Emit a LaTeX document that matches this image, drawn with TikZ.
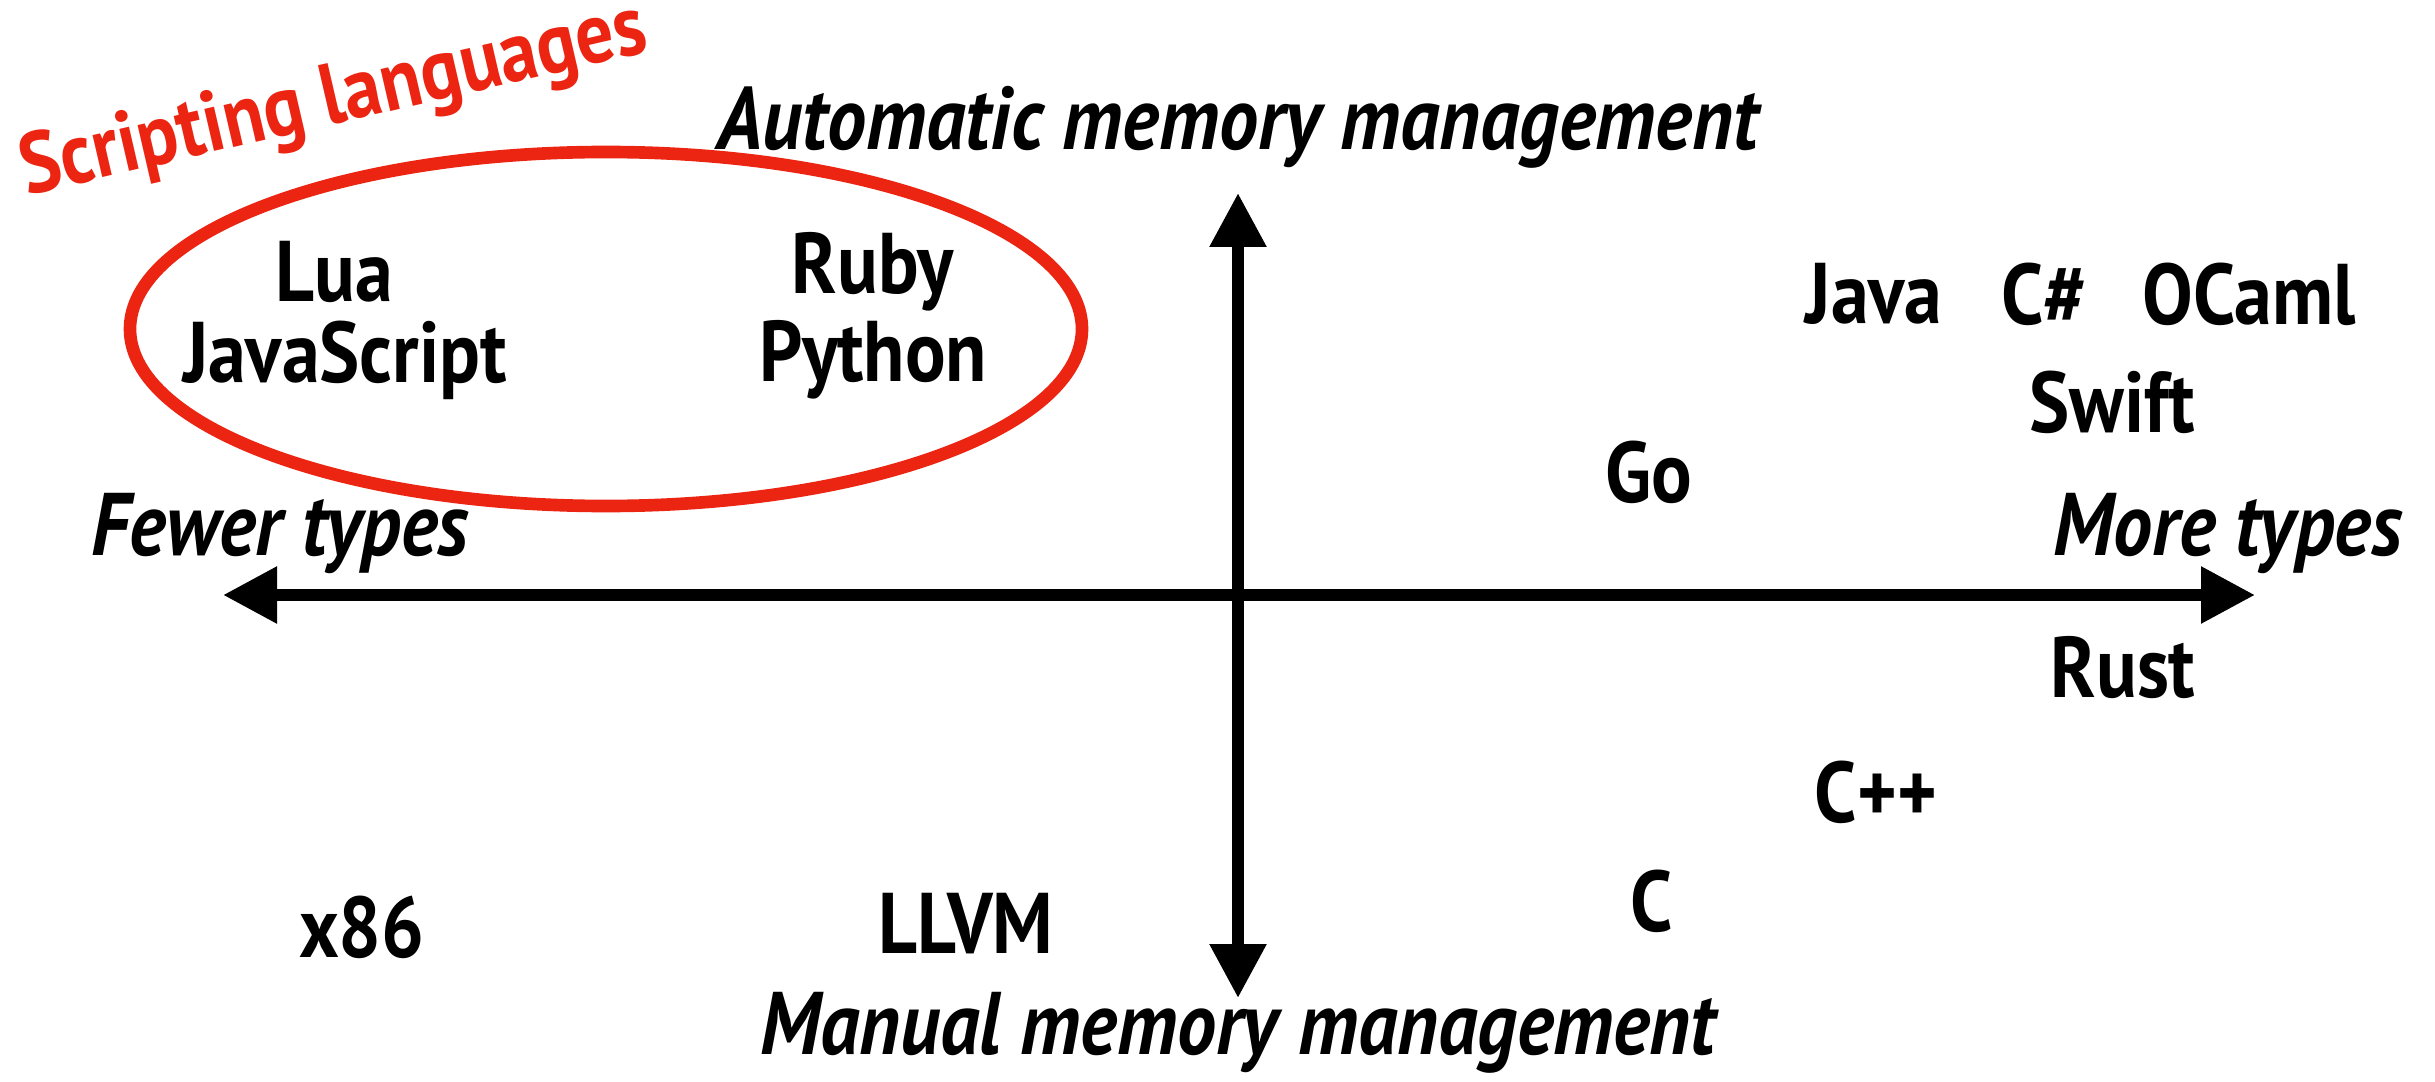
\documentclass[tikz,border=0pt]{standalone}
\usepackage{fontspec}
\setmainfont{PT Sans}[FakeStretch=0.88]
\usetikzlibrary{arrows.meta}

\begin{document}
\begin{tikzpicture}[x=0.1mm,y=-0.1mm,
	lang/.style={font=\bfseries\fontsize{24.5}{28}\selectfont},
	axislabel/.style={font=\bfseries\itshape\fontsize{25.3}{29}\selectfont},
	axis/.style={line width=3.4pt,{Triangle[length=5.4mm,width=5.4mm]}-{Triangle[length=5.4mm,width=5.4mm]}}]
	\definecolor{scriptred}{RGB}{236,36,18}

	\useasboundingbox (0,0) rectangle (2435,1082);

	% axes
	\coordinate (fewer) at (223,595);
	\coordinate (more) at (2255,595);
	\coordinate (automatic) at (1238,193);
	\coordinate (manual) at (1238,998);
	\draw[axis] (fewer) -- (more);
	\draw[axis] (automatic) -- (manual);

	\node[axislabel] (autolbl) at (1238,127) {Automatic memory management};
	\node[axislabel] (manuallbl) at (1238,1033) {Manual memory management};
	\node[axislabel] (fewerlbl) at (280,533) {Fewer types};
	\node[axislabel] (morelbl) at (2228,533) {More types};

	% scripting languages
	\draw[scriptred,line width=3.6pt] (606,329) ellipse [x radius=476, y radius=177];
	\node[text=scriptred,font=\bfseries\fontsize{24.5}{28}\selectfont,rotate=13,inner sep=0pt] (scripting) at (334,102) {Scripting languages};

	\node[lang] (lua) at (334,272) {Lua};
	\node[lang] (js) at (345,360) {JavaScript};
	\node[lang] (ruby) at (873,272) {Ruby};
	\node[lang] (python) at (873,360) {Python};

	% typed languages
	\node[lang] (java) at (1874,294) {Java};
	\node[lang] (csharp) at (2044,294) {C\#};
	\node[lang] (ocaml) at (2249,294) {OCaml};
	\node[lang] (swift) at (2112,402) {Swift};
	\node[lang] (go) at (1649,472) {Go};
	\node[lang] (rust) at (2123,668) {Rust};
	\node[lang] (cpp) at (1876,792) {C++};
	\node[lang] (c) at (1652,901) {C};
	\node[lang] (x86) at (362,927) {x86};
	\node[lang] (llvm) at (966,924) {LLVM};
\end{tikzpicture}
\end{document}
